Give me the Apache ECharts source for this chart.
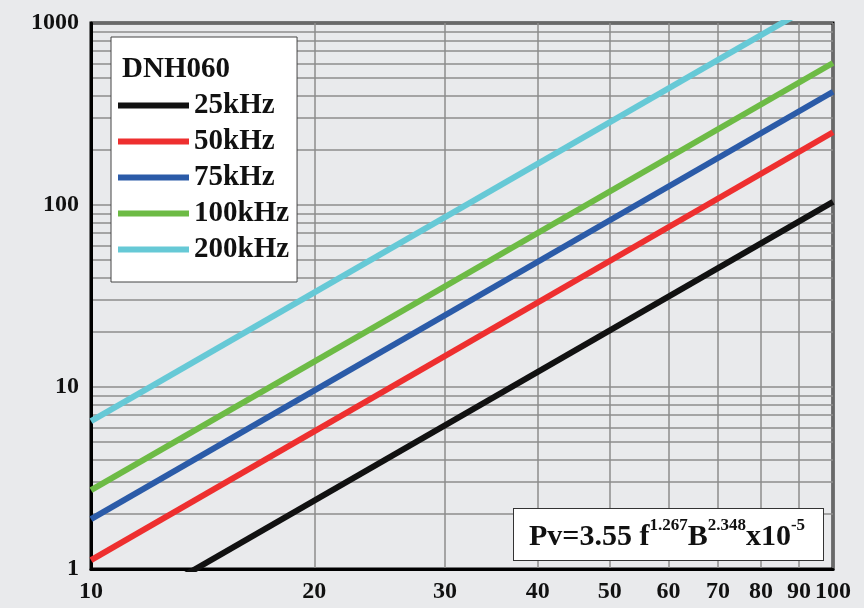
<!DOCTYPE html>
<html>
<head>
<meta charset="utf-8">
<script src="https://cdn.jsdelivr.net/npm/echarts@6/dist/echarts.min.js"></script>
<style>
html,body{margin:0;padding:0;background:#e9eaec;}
#chart{width:864px;height:608px;}
</style>
</head>
<body>
<div id="chart"></div>
<script>
// Flux density B (x) and core loss Pv (y) endpoints (straight lines on log-log)
const fluxB = [10, 100];
const pv25k = [0.467, 104];
const pv50k = [1.12, 251];
const pv75k = [1.88, 419];
const pv100k = [2.71, 603];
const pv200k = [6.5, 1450];
const seriesNames = ['25kHz', '50kHz', '75kHz', '100kHz', '200kHz'];
const seriesValues = [pv25k, pv50k, pv75k, pv100k, pv200k];
const seriesColors = ['#111111', '#ee2f2f', '#2b5ba8', '#6dbb45', '#66c9d6'];
const xTicks = [10, 20, 30, 40, 50, 60, 70, 80, 90, 100];
const yTicks = [1,2,3,4,5,6,7,8,9,10,20,30,40,50,60,70,80,90,100,200,300,400,500,600,700,800,900,1000];
const yLabels = [1, 10, 100, 1000];
const legendTitle = 'DNH060';

const FONT = '"Liberation Serif", "Times New Roman", serif';
const chart = echarts.init(document.getElementById('chart'), null, {renderer: 'canvas'});

const series = seriesNames.map((name, i) => ({
  name: name,
  type: 'line',
  data: fluxB.map((b, j) => [b, seriesValues[i][j]]),
  showSymbol: false,
  symbol: 'none',
  clip: true,
  lineStyle: {color: seriesColors[i], width: 6},
  itemStyle: {color: seriesColors[i]},
  z: 3
}));

chart.setOption({
  backgroundColor: '#e9eaec',
  animation: false,
  grid: {left: 91, right: 31, top: 23, bottom: 39, show: true, borderColor: '#000', borderWidth: 3, backgroundColor: 'transparent'},
  xAxis: {
    type: 'log', logBase: 10, min: 10, max: 100,
    axisLine: {show: true, lineStyle: {color: '#000', width: 3}},
    axisTick: {show: false, customValues: xTicks},
    axisLabel: {customValues: xTicks, margin: 11, fontSize: 24, fontWeight: 'bold', fontFamily: FONT, color: '#111',
      formatter: v => String(Math.round(v))},
    splitLine: {show: true, lineStyle: {color: '#8c8c8c', width: 1.5}},
    minorSplitLine: {show: false}
  },
  yAxis: {
    type: 'log', logBase: 10, min: 1, max: 1000,
    axisLine: {show: true, lineStyle: {color: '#000', width: 3}},
    axisTick: {show: false, customValues: yTicks},
    axisLabel: {customValues: yLabels, margin: 12, fontSize: 24, fontWeight: 'bold', fontFamily: FONT, color: '#111',
      formatter: v => String(Math.round(v))},
    splitLine: {show: true, lineStyle: {color: '#8c8c8c', width: 1.5}}
  },
  legend: {
    data: seriesNames,
    orient: 'vertical',
    left: 111, top: 37,
    padding: [54, 8, 18, 7],
    backgroundColor: '#ffffff',
    borderColor: '#444',
    borderWidth: 1,
    icon: 'rect',
    itemWidth: 71, itemHeight: 6, itemGap: 7,
    textStyle: {fontSize: 29, lineHeight: 29, fontWeight: 'bold', fontFamily: FONT, color: '#111', padding: [0, 0, 0, 0]},
    selectedMode: false,
    z: 10
  },
  graphic: [
    {
      type: 'text', left: 122, top: 55, z: 100,
      style: {text: legendTitle, fontSize: 29, fontWeight: 'bold', fontFamily: FONT, fill: '#111'}
    },
    {
      type: 'text', left: 513, top: 508, z: 100,
      style: {
        text: '{b|Pv=3.55 f}{s|1.267}{b|B}{s|2.348}{b|x10}{s|-5}',
        backgroundColor: '#ffffff', borderColor: '#333', borderWidth: 1,
        padding: [8, 14, 8, 15],
        width: 280,
        rich: {
          b: {fontSize: 30, fontWeight: 'bold', fontFamily: FONT, fill: '#111', lineHeight: 35, verticalAlign: 'bottom'},
          s: {fontSize: 17, fontWeight: 'bold', fontFamily: FONT, fill: '#111', lineHeight: 35, verticalAlign: 'top', padding: [0, 0, 0, 0]}
        }
      }
    }
  ],
  series: series
});
</script>
</body>
</html>
